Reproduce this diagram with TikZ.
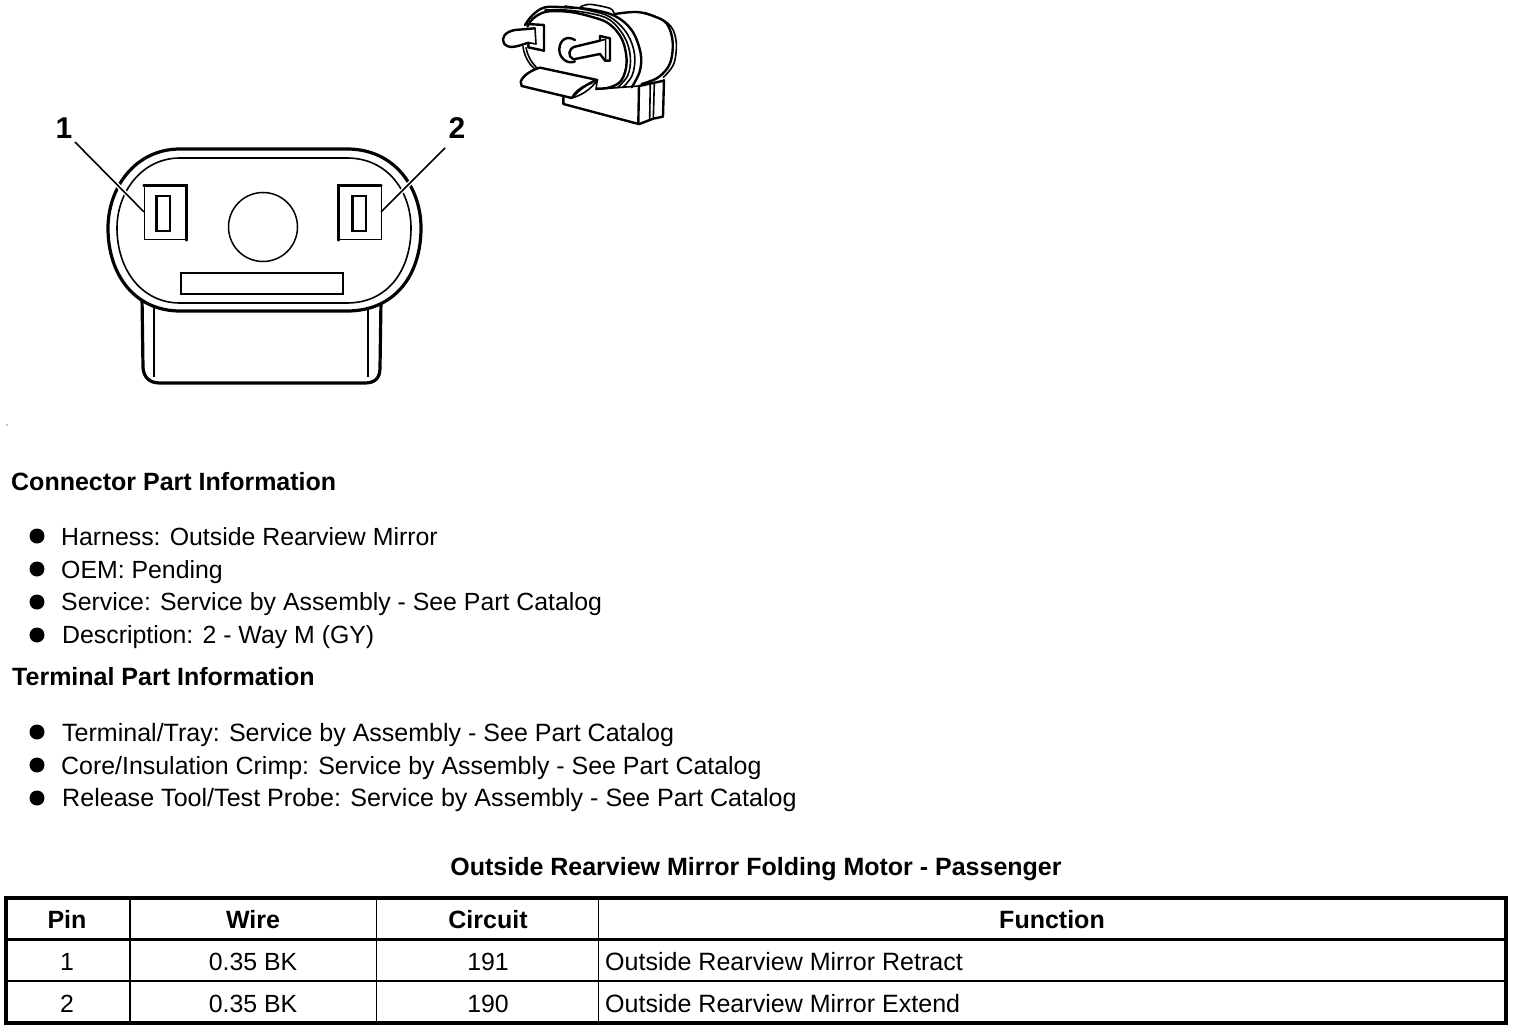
\documentclass[tikz,border=0pt]{standalone}
\usepackage{fontspec}
\setmainfont{Liberation Sans}
\usetikzlibrary{calc}
\begin{document}
\begin{tikzpicture}[x=1pt,y=-1pt,
  txt/.style={anchor=base west,inner sep=0pt,font=\fontsize{24.85}{28}\selectfont},
  txtw/.style={anchor=base west,inner sep=0pt,font=\fontsize{#1}{28}\selectfont},
  head/.style={anchor=base west,inner sep=0pt,font=\fontsize{25}{28}\selectfont\bfseries},
  cell/.style={anchor=base,inner sep=0pt,font=\fontsize{24.85}{28}\selectfont},
  hcell/.style={anchor=base,inner sep=0pt,font=\fontsize{25}{28}\selectfont\bfseries},
  bul/.style={circle,fill=black,inner sep=0pt,minimum size=15pt},
  heavy/.style={line width=3.2pt},
  thin1/.style={line width=1.3pt},
  iso/.style={line width=1.6pt,line join=round,line cap=round},
  isob/.style={line width=2.4pt,line join=round,line cap=round},
  callout/.style={anchor=center,inner sep=0pt,font=\fontsize{30}{34}\selectfont\bfseries}]
\useasboundingbox (0,0) rectangle (1520,1032);
\fill[white] (0,0) rectangle (1520,1032);
\fill (7,425) circle (0.6);
% large connector body
\draw[heavy] (142,296) -- (143,368) .. controls (144,378) and (150,383) .. (160,383) -- (365,383) .. controls (375,383) and (380,378) .. (380,368) -- (381,300);
\draw[thin1] (154,308) -- (154,377);
\draw[thin1] (368,308) -- (368,377);
\draw[heavy,fill=white] (180,149) -- (347,149) .. controls (395,149) and (421,188) .. (421,228) .. controls (421,275) and (395,311) .. (347,311) -- (180,311) .. controls (135,311) and (108,275) .. (108,228) .. controls (108,188) and (135,149) .. (180,149) -- cycle;
\draw[line width=1.6pt] (180,158) -- (347,158) .. controls (388,158) and (411,192) .. (411,228) .. controls (411,270) and (388,303) .. (347,303) -- (180,303) .. controls (142,303) and (117,270) .. (117,228) .. controls (117,192) and (142,158) .. (180,158) -- cycle;
% pins
\node[draw,line width=1pt,fill=white,minimum width=42pt,minimum height=54pt,inner sep=0pt] (pin1) at (165,213) {};
\node[draw,line width=1pt,fill=white,minimum width=42pt,minimum height=54pt,inner sep=0pt] (pin2) at (360,213) {};
\draw[line width=2.2pt,line cap=round] (pin1.north west) -- (pin1.north east) -- (pin1.south east);
\draw[line width=2.2pt,line cap=round] (pin2.north east) -- (pin2.north west) -- (pin2.south west);
\node[draw,line width=1.6pt,minimum width=13pt,minimum height=35pt,inner sep=0pt] (slot1) at (163.5,213.5) {};
\node[draw,line width=1.6pt,minimum width=13pt,minimum height=35pt,inner sep=0pt] (slot2) at (359.5,213.5) {};
\draw[line width=2.6pt] (slot1.north west) -- (slot1.south west);
\draw[line width=2.6pt] (slot2.north west) -- (slot2.south west);
\node[draw,circle,line width=1.5pt,minimum size=69pt,inner sep=0pt] (hole) at (263,227) {};
\node[draw,line width=2.2pt,minimum width=162pt,minimum height=21pt,inner sep=0pt] (key) at (262,283.5) {};
% callouts
\node[callout] (c1) at (64,128) {1};
\node[callout] (c2) at (457,128) {2};
\coordinate (e1) at (144,212);
\coordinate (e2) at (381,212);
\coordinate (s1) at (75,142);
\coordinate (s2) at (445,148);
\draw[white,line width=4.5pt] ($(s1)!.45!(e1)$) -- ($(s1)!.78!(e1)$);
\draw[white,line width=4.5pt] ($(s2)!.5!(e2)$) -- ($(s2)!.82!(e2)$);
\draw[line width=1.6pt] (s1) -- (e1);
\draw[line width=1.6pt] (s2) -- (e2);
% small isometric connector
\begin{scope}[shift={(490,0)},x=0.3333pt,y=-0.3333pt]
 % bump
 \draw[iso] plot[smooth,tension=.5] coordinates {(272,20) (300,13) (360,25) (372,40)};
 % barrel with double right edge
 \draw[isob] plot[smooth,tension=.6] coordinates {(375,42) (441,36) (495,50) (531,72) (548,125) (540,190) (505,232) (455,252)};
 \draw[iso] plot[smooth,tension=.6] coordinates {(465,38) (534,70) (558,120) (552,190) (520,232)};
 % flange lines
 \draw[isob] plot[smooth,tension=.6] coordinates {(105,75) (128,45) (165,22) (225,22) (300,28) (375,48) (426,92) (452,160) (449,215) (425,262)};
 \draw[iso] plot[smooth,tension=.6] coordinates {(225,18) (300,32) (362,52) (412,102) (434,165) (427,225) (398,263)};
 \draw[iso] plot[smooth,tension=.6] coordinates {(165,30) (225,30) (300,40) (360,60) (404,112) (421,170) (414,225) (383,263)};
 \draw[isob] plot[smooth,tension=.6] coordinates {(112,80) (130,55) (170,35) (240,36) (310,52) (358,72) (396,118) (410,185) (395,240) (360,262) (322,266)};
 % flange lower left, double
 \draw[iso] (99,140) .. controls (102,165) and (115,190) .. (132,205);
 \draw[iso] (108,143) .. controls (112,165) and (122,185) .. (140,203);
 % left terminal
 \draw[isob] (135,85) -- (75,90) .. controls (45,95) and (32,115) .. (42,130) .. controls (55,147) and (75,142) .. (115,128) -- (115,142) -- (162,152) -- (162,75) -- (112,72);
 \draw[iso] (135,85) -- (138,132) -- (115,128);
 % centre hole and terminal
 \draw[isob] (255,120) .. controls (230,105) and (208,120) .. (208,150) .. controls (208,175) and (235,195) .. (255,184);
 \draw[isob] (330,122) -- (255,140) .. controls (235,145) and (232,170) .. (250,178) -- (330,162) -- (345,182) -- (360,182) -- (360,115) -- (330,108) -- (330,122);
 \draw[iso] (330,122) -- (347,118) -- (347,180);
 % latch
 \draw[isob] (92,245) .. controls (100,225) and (125,210) .. (150,203) -- (322,240) .. controls (292,250) and (265,270) .. (245,294) -- (95,258) -- cycle;
 \draw[iso] (245,294) .. controls (272,287) and (302,270) .. (322,240) -- (318,268);
 \draw[iso] (250,285) .. controls (265,265) and (285,255) .. (305,250);
 % lower block
 \draw[isob] (220,293) -- (220,312) -- (438,370) -- (448,372) -- (490,356) -- (519,350) -- (522,240);
 \draw[isob] (445,370) -- (447,258) -- (522,242);
 \draw[iso] (481,250) -- (479,358);
 \draw[iso] (493,248) -- (490,356);
 \draw[iso] (318,268) -- (447,258);
\end{scope}
% text blocks
\node[head] (h1) at (11,490) {Connector Part Information};
\node[bul] (b1) at (37,536) {};
\node[txt] (t1) at (61,545) {Harness: Outside Rearview Mirror};
\node[bul] (b2) at (37,569) {};
\node[txt] (t2) at (61,578) {OEM: Pending};
\node[bul] (b3) at (37,602) {};
\node[txt] (t3) at (61,610) {Service: Service by Assembly - See Part Catalog};
\node[bul] (b4) at (37,635) {};
\node[txt] (t4) at (62,643) {Description: 2 - Way M (GY)};
\node[head] (h2) at (12,685) {Terminal Part Information};
\node[bul] (b5) at (37,732) {};
\node[txtw=25.02] (t5) at (62,741) {Terminal/Tray: Service by Assembly - See Part Catalog};
\node[bul] (b6) at (37,765) {};
\node[txtw=24.92] (t6) at (61,774) {Core/Insulation Crimp: Service by Assembly - See Part Catalog};
\node[bul] (b7) at (37,798) {};
\node[txtw=25.09] (t7) at (62,806) {Release Tool/Test Probe: Service by Assembly - See Part Catalog};
\node[hcell] (title) at (756,875) {Outside Rearview Mirror Folding Motor - Passenger};
% table
\draw[line width=3.2pt] (6,898) rectangle (1506,1023);
\draw[line width=3pt] (6,939.5) -- (1506,939.5);
\draw[line width=2pt] (6,981) -- (1506,981);
\draw[line width=2.4pt] (130,898) -- (130,1023);
\draw[line width=1.3pt] (376.5,898) -- (376.5,1023);
\draw[line width=1.3pt] (598.5,898) -- (598.5,1023);
\node[hcell] (hp) at (67,928) {Pin};
\node[hcell] (hw) at (253,928) {Wire};
\node[hcell] (hc) at (488,928) {Circuit};
\node[hcell] (hf) at (1052,928) {Function};
\node[cell] (p1) at (67,970) {1};
\node[cell] (w1) at (253,970) {0.35 BK};
\node[cell] (c191) at (488,970) {191};
\node[txtw=25.05] (f1) at (605,970) {Outside Rearview Mirror Retract};
\node[cell] (p2) at (67,1012) {2};
\node[cell] (w2) at (253,1012) {0.35 BK};
\node[cell] (c190) at (488,1012) {190};
\node[txtw=25.05] (f2) at (605,1012) {Outside Rearview Mirror Extend};
\end{tikzpicture}
\end{document}
